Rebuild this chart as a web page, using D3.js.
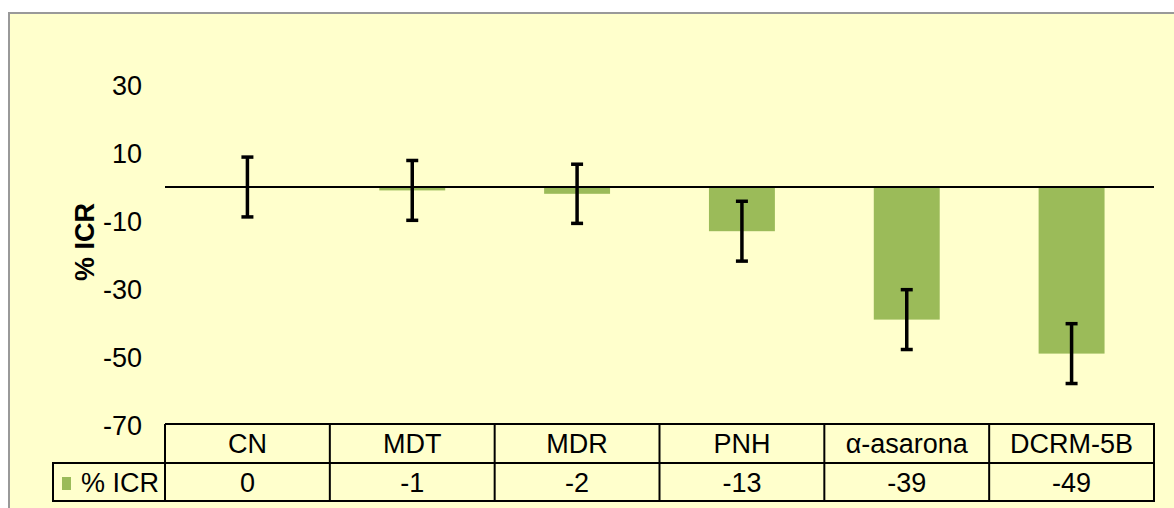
<!DOCTYPE html>
<html>
<head>
<meta charset="utf-8">
<script src="https://cdn.jsdelivr.net/npm/d3@7"></script>
<style>
  body { margin: 0; background: #fff; }
  svg text { font-family: "Liberation Sans", Arial, sans-serif; fill: #000; }
</style>
</head>
<body>
<svg width="1174" height="508"></svg>
<script>
const categories = ['CN', 'MDT', 'MDR', 'PNH', 'α-asarona', 'DCRM-5B'];
const values = [0, -1, -2, -13, -39, -49];
const errors = [8.8, 8.8, 8.7, 8.8, 8.8, 8.8];
const yTicks = [30, 10, -10, -30, -50, -70];
const seriesName = '% ICR';

const svg = d3.select('svg');
const barColor = '#9BBB59';

// chart area background + border (right/bottom run off the page)
svg.append('rect')
    .attr('x', 9).attr('y', 13)
    .attr('width', 1200).attr('height', 520)
    .attr('fill', '#FFFFCC')
    .attr('stroke', '#999')
    .attr('stroke-width', 2);

const left = 165, right = 1154;
const xScale = d3.scaleBand()
    .domain(categories)
    .range([left, right])
    .paddingInner(0.6)
    .paddingOuter(0.3);

const yScale = d3.scaleLinear()
    .domain([-70, 30])
    .range([425, 85]);

const step = xScale.step();
const colStart = i => left + i * step;

// y tick labels
svg.append('g')
    .selectAll('text')
    .data(yTicks)
    .join('text')
    .attr('x', 142)
    .attr('y', d => yScale(d))
    .attr('dy', '0.36em')
    .attr('text-anchor', 'end')
    .style('font-size', '27px')
    .text(d => d);

// y axis title
svg.append('text')
    .attr('transform', `translate(94, ${242}) rotate(-90)`)
    .attr('text-anchor', 'middle')
    .style('font-size', '27px')
    .style('font-weight', 'bold')
    .text(seriesName);

// bars
svg.append('g')
    .selectAll('rect')
    .data(values)
    .join('rect')
    .attr('x', (d, i) => xScale(categories[i]))
    .attr('y', d => yScale(Math.max(0, d)))
    .attr('width', xScale.bandwidth())
    .attr('height', d => Math.abs(yScale(d) - yScale(0)))
    .attr('fill', barColor);

// zero line
svg.append('line')
    .attr('x1', left).attr('x2', right)
    .attr('y1', yScale(0)).attr('y2', yScale(0))
    .attr('stroke', '#000')
    .attr('stroke-width', 2);

// error bars
const eb = svg.append('g')
    .selectAll('g')
    .data(values)
    .join('g')
    .attr('stroke', '#000')
    .attr('stroke-width', 3.5);

const cx = i => xScale(categories[i]) + xScale.bandwidth() / 2;
eb.append('line')
    .attr('x1', (d, i) => cx(i)).attr('x2', (d, i) => cx(i))
    .attr('y1', (d, i) => yScale(d + errors[i]))
    .attr('y2', (d, i) => yScale(d - errors[i]));
eb.append('line')
    .attr('x1', (d, i) => cx(i) - 6).attr('x2', (d, i) => cx(i) + 6)
    .attr('y1', (d, i) => yScale(d + errors[i]))
    .attr('y2', (d, i) => yScale(d + errors[i]));
eb.append('line')
    .attr('x1', (d, i) => cx(i) - 6).attr('x2', (d, i) => cx(i) + 6)
    .attr('y1', (d, i) => yScale(d - errors[i]))
    .attr('y2', (d, i) => yScale(d - errors[i]));

// data table
const tTop = 424, tMid = 463, tBot = 501, legLeft = 53;
const table = svg.append('g')
    .attr('stroke', '#000')
    .attr('stroke-width', 2)
    .attr('fill', 'none');

table.append('path')
    .attr('d', `M${left},${tTop}H${right}V${tBot}H${legLeft}V${tMid}H${right}`);
categories.forEach((c, i) => {
    table.append('line')
        .attr('x1', colStart(i)).attr('x2', colStart(i))
        .attr('y1', tTop).attr('y2', tBot);
});

svg.append('g')
    .selectAll('text')
    .data(categories)
    .join('text')
    .attr('x', (d, i) => colStart(i) + step / 2)
    .attr('y', (tTop + tMid) / 2)
    .attr('dy', '0.36em')
    .attr('text-anchor', 'middle')
    .style('font-size', '27px')
    .text(d => d);

svg.append('g')
    .selectAll('text')
    .data(values)
    .join('text')
    .attr('x', (d, i) => colStart(i) + step / 2)
    .attr('y', (tMid + tBot) / 2)
    .attr('dy', '0.36em')
    .attr('text-anchor', 'middle')
    .style('font-size', '27px')
    .text(d => d);

// legend key
svg.append('rect')
    .attr('x', 62).attr('y', 477)
    .attr('width', 9).attr('height', 13)
    .attr('fill', barColor);
svg.append('text')
    .attr('x', 81)
    .attr('y', (tMid + tBot) / 2)
    .attr('dy', '0.36em')
    .style('font-size', '27px')
    .text(seriesName);
</script>
</body>
</html>
